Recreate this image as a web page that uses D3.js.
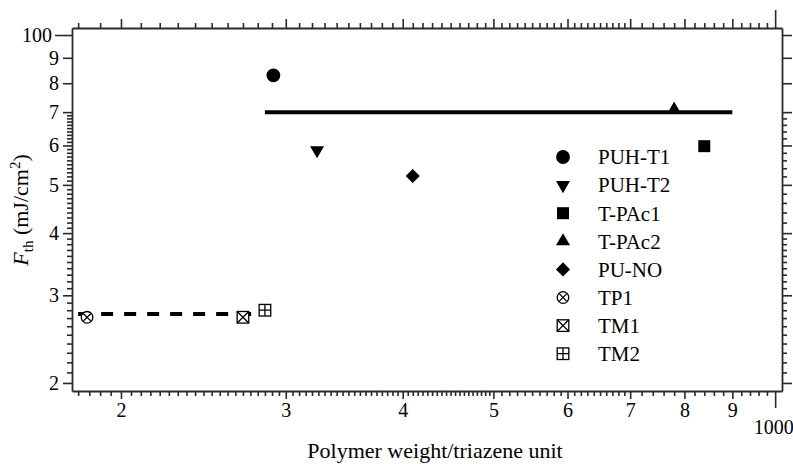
<!DOCTYPE html>
<html><head><meta charset="utf-8">
<script src="https://cdn.jsdelivr.net/npm/d3@7"></script>
<style>
html,body{margin:0;padding:0;background:#fff;}
svg{display:block;}
</style></head>
<body>
<script>
// ---- data ----
const seriesNames = ["PUH-T1","PUH-T2","T-PAc1","T-PAc2","PU-NO","TP1","TM1","TM2"];
const seriesMarkers = ["circle","tri-down","square","tri-up","diamond","circle-x","square-x","square-plus"];
const polymerWeight = [291, 324, 840, 780, 410, 184, 270, 285];
const fthValues = [83.0, 58.7, 59.8, 70.8, 52.1, 27.1, 27.1, 28.0];

const solidLineX = [285, 900];
const solidLineY = [70, 70];
const dashedLineX = [180, 279];
const dashedLineY = [27.5, 27.5];

const xMajorTicks = [200,300,400,500,600,700,800,900];
const xMajorLabels = ["2","3","4","5","6","7","8","9"];
const xDecadeTicks = [1000];
const xDecadeLabels = ["1000"];
const yMajorTicks = [20,30,40,50,60,70,80,90];
const yMajorLabels = ["2","3","4","5","6","7","8","9"];
const yDecadeTicks = [100];
const yDecadeLabels = ["100"];

const xTitle = "Polymer weight/triazene unit";

// ---- layout ----
const W = 793, H = 464;
const mLeft = 72, mRight = 782, mTop = 28, mBottom = 391;
const svg = d3.select("body").append("svg").attr("width", W).attr("height", H);

const x = d3.scaleLog().domain([177.3, 1017]).range([mLeft, mRight]);
const y = d3.scaleLog().domain([19.27, 103.3]).range([mBottom, mTop]);

const FONT = "'Liberation Serif','Times New Roman',serif";
const axisColor = "#2a2a2a";

function minorX(stepPlan){
  let out=[]; stepPlan.forEach(([a,b,s])=>{ for(let v=a; v<=b+1e-9; v+=s){ if(v%100!==0) out.push(+v.toFixed(3)); } }); return out;
}
function minorY(stepPlan){
  let out=[]; stepPlan.forEach(([a,b,s])=>{ for(let v=a; v<=b+1e-9; v+=s){ const r=v%10; if(r>1e-6 && r<10-1e-6) out.push(+v.toFixed(3)); } }); return out;
}
const xMinorBottom = minorX([[180,495,5],[510,690,10],[720,980,20]]);
const xMinorTop = minorX([[180,690,10],[720,980,20]]);
const yMinorLeft = minorY([[21,69,1]]);
const yMinorRight = minorY([[21,39,1],[42,68,2]]);

function addAxis(axis, transform, showDomain){
  const g = svg.append("g").attr("transform", transform).call(axis);
  g.attr("font-family", FONT).attr("font-size", 20).attr("color", axisColor);
  g.selectAll(".tick line").attr("stroke-width", 1.6);
  g.select(".domain").attr("stroke-width", 1.8);
  if(!showDomain) g.select(".domain").remove();
  g.selectAll("text").attr("fill", "#000");
  return g;
}

// bottom
addAxis(d3.axisBottom(x).tickValues(xMinorBottom).tickSize(5).tickSizeOuter(0).tickFormat(""), `translate(0,${mBottom})`, true);
addAxis(d3.axisBottom(x).tickValues(xMajorTicks).tickSize(8).tickPadding(4).tickFormat((d,i)=>xMajorLabels[i]), `translate(0,${mBottom})`, false);
const dec = addAxis(d3.axisBottom(x).tickValues(xDecadeTicks).tickSize(17).tickPadding(12).tickFormat((d,i)=>xDecadeLabels[i]), `translate(0,${mBottom})`, false);
dec.selectAll("text").attr("text-anchor","end").attr("dx", 18);
// top
addAxis(d3.axisTop(x).tickValues(xMinorTop).tickSize(5).tickSizeOuter(0).tickFormat(""), `translate(0,${mTop})`, true);
addAxis(d3.axisTop(x).tickValues(xMajorTicks).tickSize(9).tickFormat(""), `translate(0,${mTop})`, false);
addAxis(d3.axisTop(x).tickValues(xDecadeTicks).tickSize(18).tickFormat(""), `translate(0,${mTop})`, false);
// left
addAxis(d3.axisLeft(y).tickValues(yMinorLeft).tickSize(5).tickSizeOuter(0).tickFormat(""), `translate(${mLeft},0)`, true);
addAxis(d3.axisLeft(y).tickValues(yMajorTicks).tickSize(9).tickPadding(4).tickFormat((d,i)=>yMajorLabels[i]), `translate(${mLeft},0)`, false);
addAxis(d3.axisLeft(y).tickValues(yDecadeTicks).tickSize(17).tickPadding(3).tickFormat((d,i)=>yDecadeLabels[i]), `translate(${mLeft},0)`, false);
// right
addAxis(d3.axisRight(y).tickValues(yMinorRight).tickSize(5).tickSizeOuter(0).tickFormat(""), `translate(${mRight},0)`, true);
addAxis(d3.axisRight(y).tickValues(yMajorTicks.concat(yDecadeTicks)).tickSize(10).tickFormat(""), `translate(${mRight},0)`, false);

// axis titles
svg.append("text").attr("x", 435).attr("y", 458).attr("text-anchor","middle")
  .attr("font-family", FONT).attr("font-size", 22).attr("fill","#000").text(xTitle);

const yt = svg.append("text").attr("transform", `translate(28,210) rotate(-90)`).attr("text-anchor","middle")
  .attr("font-family", FONT).attr("font-size", 22).attr("fill","#000");
yt.append("tspan").attr("font-style","italic").text("F");
yt.append("tspan").attr("font-size", 15).attr("dy", 5).text("th");
yt.append("tspan").attr("dy", -5).text(" (mJ/cm");
yt.append("tspan").attr("font-size", 15).attr("dy", -8).text("2");
yt.append("tspan").attr("dy", 8).text(")");

// lines
const lineGen = d3.line().x(d=>x(d[0])).y(d=>y(d[1]));
svg.append("path").attr("d", lineGen(solidLineX.map((v,i)=>[v, solidLineY[i]])))
  .attr("stroke","#000").attr("stroke-width",4).attr("fill","none");
svg.append("path").attr("d", lineGen(dashedLineX.map((v,i)=>[v, dashedLineY[i]])))
  .attr("stroke","#000").attr("stroke-width",4).attr("fill","none").attr("stroke-dasharray","12,11");

// markers
function drawMarker(g, type, cx, cy){
  const m = g.append("g").attr("transform", `translate(${cx},${cy})`);
  const sw = 1.3;
  switch(type){
    case "circle": m.append("path").attr("d", d3.symbol(d3.symbolCircle, 150)()).attr("fill","#000"); break;
    case "square": m.append("path").attr("d", d3.symbol(d3.symbolSquare, 144)()).attr("fill","#000"); break;
    case "tri-up": m.append("path").attr("d", d3.symbol(d3.symbolTriangle, 85)()).attr("fill","#000"); break;
    case "tri-down": m.append("path").attr("d", d3.symbol(d3.symbolTriangle, 85)()).attr("transform","rotate(180)").attr("fill","#000"); break;
    case "diamond": m.append("path").attr("d", d3.symbol(d3.symbolSquare, 100)()).attr("transform","rotate(45)").attr("fill","#000"); break;
    case "circle-x": {
      const r = 5.8;
      m.append("circle").attr("r", r).attr("fill","#fff").attr("stroke","#000").attr("stroke-width",sw);
      const k = r*0.62;
      m.append("path").attr("d", `M${-k},${-k}L${k},${k}M${-k},${k}L${k},${-k}`).attr("stroke","#000").attr("stroke-width",sw);
      break; }
    case "square-x": {
      const h = 5.8;
      m.append("rect").attr("x",-h).attr("y",-h).attr("width",2*h).attr("height",2*h).attr("fill","#fff").attr("stroke","#000").attr("stroke-width",sw);
      m.append("path").attr("d", `M${-h},${-h}L${h},${h}M${-h},${h}L${h},${-h}`).attr("stroke","#000").attr("stroke-width",sw);
      break; }
    case "square-plus": {
      const h = 5.8;
      m.append("rect").attr("x",-h).attr("y",-h).attr("width",2*h).attr("height",2*h).attr("fill","#fff").attr("stroke","#000").attr("stroke-width",sw);
      m.append("path").attr("d", `M${-h},0L${h},0M0,${-h}L0,${h}`).attr("stroke","#000").attr("stroke-width",sw);
      break; }
  }
}
const pts = svg.append("g");
seriesNames.forEach((n,i)=> drawMarker(pts, seriesMarkers[i], x(polymerWeight[i]), y(fthValues[i])));

// legend
const lg = svg.append("g");
seriesNames.forEach((n,i)=>{
  const ly = 157 + i*28.1;
  drawMarker(lg, seriesMarkers[i], 563, ly);
  lg.append("text").attr("x", 598).attr("y", ly).attr("dy","0.35em")
    .attr("font-family", FONT).attr("font-size", 21).attr("fill","#000").text(n);
});
</script>
</body></html>
